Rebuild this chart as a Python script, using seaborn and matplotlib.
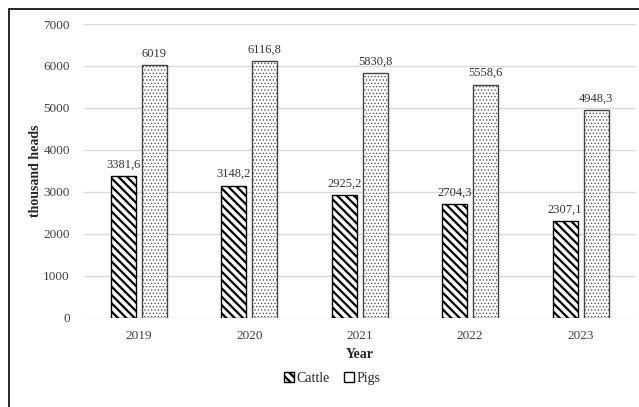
import pandas as pd
import matplotlib.pyplot as plt
import seaborn as sns
from matplotlib.patches import Rectangle

years = ["2019", "2020", "2021", "2022", "2023"]
cattle = [3381.6, 3148.2, 2925.2, 2704.3, 2307.1]
pigs = [6019, 6116.8, 5830.8, 5558.6, 4948.3]
cattle_labels = ["3381,6", "3148,2", "2925,2", "2704,3", "2307,1"]
pigs_labels = ["6019", "6116,8", "5830,8", "5558,6", "4948,3"]

df = pd.DataFrame({
    "Year": years * 2,
    "value": cattle + pigs,
    "Type": ["Cattle"] * 5 + ["Pigs"] * 5,
})

sns.set_style("white")
plt.rcParams["font.family"] = ["Liberation Serif", "DejaVu Serif"]
plt.rcParams["hatch.linewidth"] = 1.6

fig = plt.figure(figsize=(6.39, 4.07), dpi=100)
ax = fig.add_axes([0.131, 0.219, 0.864, 0.722])

sns.barplot(data=df, x="Year", y="value", hue="Type", ax=ax,
            palette=["white", "white"], width=0.56, gap=0.19,
            edgecolor="black", linewidth=1.0, legend=False)

# hatches: diagonal for cattle, fine dots for pigs
for bar in ax.containers[0]:
    bar.set_hatch("\\\\\\\\")
for bar in ax.containers[1]:
    bar.set_hatch(".....")
    bar.set_edgecolor("#444444")
    if hasattr(bar, "set_hatch_linewidth"):
        bar.set_hatch_linewidth(0.5)

ax.bar_label(ax.containers[0], labels=cattle_labels, padding=4, fontsize=9, color="#333333")
ax.bar_label(ax.containers[1], labels=pigs_labels, padding=4, fontsize=9, color="#333333")

ax.set_ylim(0, 7000)
ax.set_yticks(range(0, 7001, 1000))
ax.yaxis.grid(True, color="#d9d9d9", linewidth=1)
ax.set_axisbelow(True)
for s in ax.spines.values():
    s.set_visible(False)
ax.tick_params(axis="both", labelsize=9.5, colors="#404040", length=0)
ax.tick_params(axis="y", pad=10)
ax.tick_params(axis="x", pad=9)
ax.set_xlabel("Year", fontsize=10, fontweight="bold", labelpad=4)
ax.set_ylabel("thousand heads", fontsize=10, fontweight="bold", labelpad=1)

# legend
handles = [Rectangle((0, 0), 1, 1, facecolor="white", edgecolor="black", hatch="\\\\\\\\"),
           Rectangle((0, 0), 1, 1, facecolor="white", edgecolor="black")]
fig.legend(handles, ["Cattle", "Pigs"], loc="center", bbox_to_anchor=(0.52, 0.07),
           ncol=2, frameon=False, fontsize=10, handlelength=0.7, handleheight=0.7,
           handletextpad=0.2, columnspacing=1.0)

# outer frame
fig.patches.append(Rectangle((9 / 639, -0.1), 1.2, 1 - 9 / 407 + 0.1,
                             transform=fig.transFigure, fill=False,
                             edgecolor="black", linewidth=1.2))

fig.savefig("out.png", dpi=100)
